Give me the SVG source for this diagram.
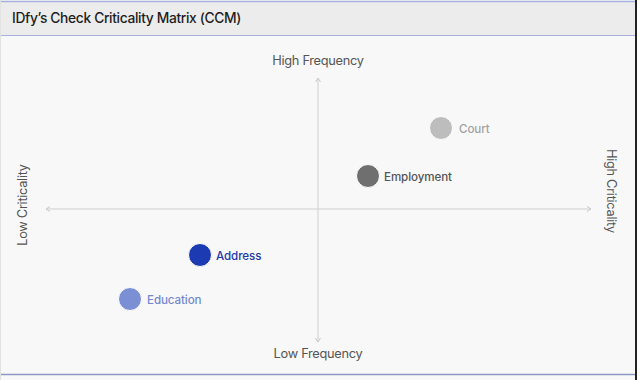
<svg xmlns="http://www.w3.org/2000/svg" width="637" height="380" viewBox="0 0 637 380">
<style>
.ax{stroke:#cfcfcf;stroke-width:1;fill:none}
.axl{font-family:"Inter","Liberation Sans",sans-serif;font-size:12.8px;fill:#555;letter-spacing:-0.3px}
.lbl{font-family:"Inter","Liberation Sans",sans-serif;font-size:11.6px;font-weight:500;letter-spacing:-0.1px}
</style>
<defs>
<marker id="ah" markerWidth="8" markerHeight="8" refX="6" refY="4" orient="auto" markerUnits="userSpaceOnUse">
<path d="M2,1.5 L6,4 L2,6.5" fill="none" stroke="#c8c8c8" stroke-width="1"/>
</marker>
</defs>
<rect x="0" y="0" width="637" height="380" fill="#f8f8f8"/>
<rect x="0" y="1" width="637" height="35" fill="#ececec"/>
<line x1="0" y1="1.5" x2="637" y2="1.5" stroke="#a7b1df" stroke-width="1.5"/>
<line x1="0" y1="35.5" x2="637" y2="35.5" stroke="#a7b1df" stroke-width="1.2"/>
<line x1="0" y1="374.5" x2="637" y2="374.5" stroke="#8e99c4" stroke-width="1.5"/>
<line x1="0.5" y1="0" x2="0.5" y2="380" stroke="#e2e2e2" stroke-width="1"/>
<line x1="636" y1="0" x2="636" y2="380" stroke="#222" stroke-width="2"/>
<text x="12" y="23" font-family="Inter,'Liberation Sans',sans-serif" font-size="13.8" font-weight="500" fill="#1e1e1e" letter-spacing="-0.35">IDfy’s Check Criticality Matrix (CCM)</text>
<g id="connectors">
<line class="ax" x1="318" y1="209" x2="318" y2="78" marker-end="url(#ah)"/>
<line class="ax" x1="318" y1="209" x2="318" y2="342" marker-end="url(#ah)"/>
<line class="ax" x1="318" y1="209" x2="46" y2="209" marker-end="url(#ah)"/>
<line class="ax" x1="318" y1="209" x2="591" y2="209" marker-end="url(#ah)"/>
</g>
<g id="axis-high-frequency"><text class="axl" x="318" y="65" text-anchor="middle">High Frequency</text></g>
<g id="axis-low-frequency"><text class="axl" x="318" y="358" text-anchor="middle">Low Frequency</text></g>
<g id="axis-low-criticality"><text class="axl" transform="translate(27,205) rotate(-90)" text-anchor="middle">Low Criticality</text></g>
<g id="axis-high-criticality"><text class="axl" transform="translate(607,191) rotate(90)" text-anchor="middle">High Criticality</text></g>
<g id="court"><circle cx="441" cy="128" r="11.5" fill="#bdbdbd" stroke="#fff" stroke-width="1"/><text class="lbl" x="459" y="133" fill="#a3a3a3">Court</text></g>
<g id="employment"><circle cx="368" cy="176" r="11.5" fill="#6f6f6f" stroke="#fff" stroke-width="1"/><text class="lbl" x="384" y="181" fill="#555">Employment</text></g>
<g id="address"><circle cx="200" cy="255" r="11.5" fill="#1c3bb2" stroke="#fff" stroke-width="1"/><text class="lbl" x="216" y="260" fill="#1f3aa8">Address</text></g>
<g id="education"><circle cx="130" cy="299" r="11.5" fill="#7b8fd4" stroke="#fff" stroke-width="1"/><text class="lbl" x="147" y="304" fill="#7488cf">Education</text></g>
</svg>
